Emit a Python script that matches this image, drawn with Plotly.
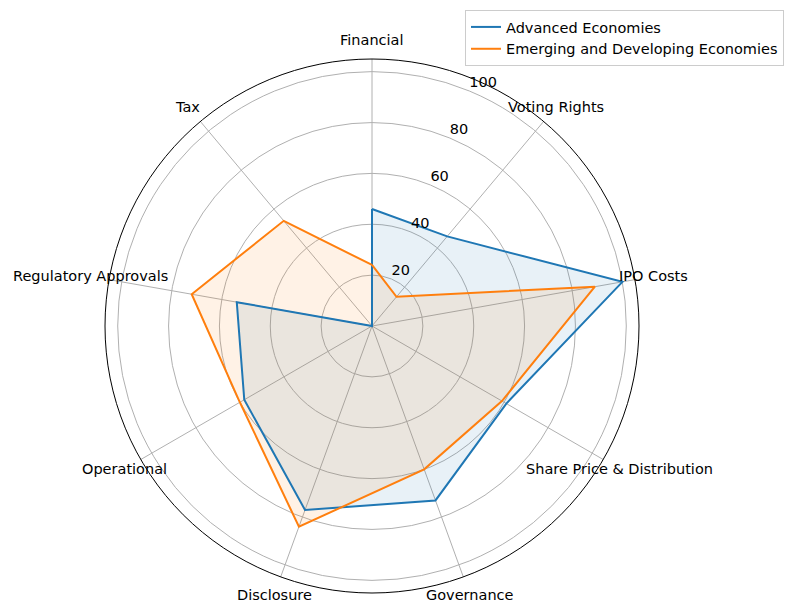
import math
import plotly.graph_objects as go

categories = ["Financial", "Voting Rights", "IPO Costs", "Share Price & Distribution",
              "Governance", "Disclosure", "Operational", "Regulatory Approvals", "Tax"]
advanced = [46, 46, 100, 61, 73, 77, 58, 54, 0]
emerging = [24, 15, 89, 59, 60, 84, 60, 72, 54]
series_names = ["Advanced Economies", "Emerging and Developing Economies"]
radial_ticks = [20, 40, 60, 80, 100]
r_max = 105
label_r = 112.6
rlabel_theta = 22.5

W, H = 787, 602
colors = ["#1f77b4", "#ff7f0e"]
fills = ["rgba(31,119,180,0.1)", "rgba(255,127,14,0.1)"]

n = len(categories)
angles = [i * 360 / n for i in range(n)]
theta_closed = angles + [angles[0]]

fig = go.Figure()
for vals, fc in zip([advanced, emerging], fills):
    fig.add_trace(go.Scatterpolar(r=vals + [vals[0]], theta=theta_closed, fill="toself",
                                  fillcolor=fc, line=dict(width=0), mode="lines",
                                  showlegend=False, hoverinfo="skip"))
for vals, name, c in zip([advanced, emerging], series_names, colors):
    fig.add_trace(go.Scatterpolar(r=vals + [vals[0]], theta=theta_closed, mode="lines",
                                  name=name, line=dict(color=c, width=2)))
# radial tick labels (matplotlib style: left/bottom aligned at 22.5 deg)
fig.add_trace(go.Scatterpolar(r=radial_ticks, theta=[rlabel_theta] * len(radial_ticks),
                              mode="text", text=[str(t) for t in radial_ticks],
                              textposition="top right",
                              textfont=dict(size=14.5, color="black"),
                              showlegend=False, hoverinfo="skip"))

dom_x = [105 / W, 639 / W]
dom_y = [1 - 593 / H, 1 - 59 / H]
cx = (dom_x[0] + dom_x[1]) / 2 * W
cy = (dom_y[0] + dom_y[1]) / 2 * H
rad_px = min((dom_x[1] - dom_x[0]) * W, (dom_y[1] - dom_y[0]) * H) / 2

annotations = []
for cat, a in zip(categories, angles):
    ang = math.radians(90 - a)
    d = label_r / r_max * rad_px
    annotations.append(dict(x=(cx + d * math.cos(ang)) / W, y=(cy + d * math.sin(ang)) / H,
                            xref="paper", yref="paper", text=cat, showarrow=False,
                            xanchor="center", yanchor="middle",
                            font=dict(size=14.5, color="black")))

fig.update_layout(
    width=W, height=H,
    margin=dict(l=0, r=0, t=0, b=0),
    paper_bgcolor="white",
    font=dict(family="DejaVu Sans", size=14.5, color="black"),
    annotations=annotations,
    polar=dict(
        domain=dict(x=dom_x, y=dom_y),
        bgcolor="white",
        angularaxis=dict(direction="clockwise", rotation=90, thetaunit="degrees",
                         tickmode="array", tickvals=angles, showline=True,
                         linecolor="black", linewidth=1, gridcolor="#b0b0b0",
                         gridwidth=1, ticks="", showticklabels=False),
        radialaxis=dict(range=[0, r_max], tickvals=radial_ticks, showline=False,
                        gridcolor="#b0b0b0", gridwidth=1, ticks="",
                        showticklabels=False),
    ),
    legend=dict(x=465 / W, y=1 - 10 / H, xanchor="left", yanchor="top",
                bordercolor="#cccccc", borderwidth=1, bgcolor="white",
                font=dict(size=14.5)),
)

fig.write_html("out.html", config={"displayModeBar": False},
               post_script="document.body.style.margin='0';document.body.style.padding='0';")
